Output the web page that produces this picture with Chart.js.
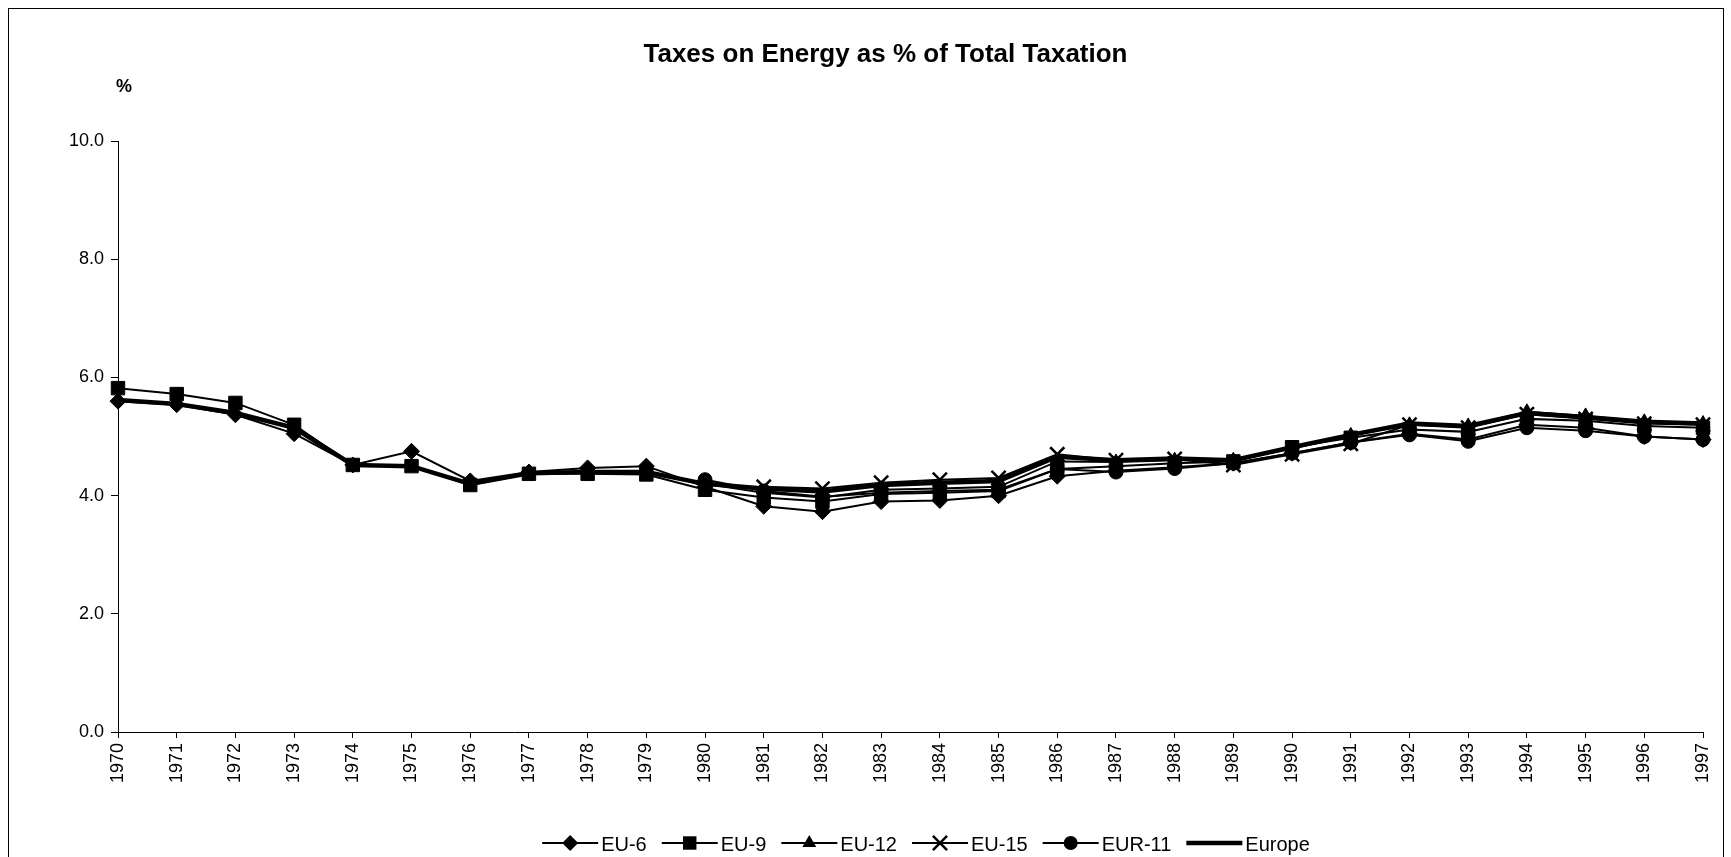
<!DOCTYPE html>
<html>
<head>
<meta charset="utf-8">
<title>Taxes on Energy as % of Total Taxation</title>
<script src="https://cdn.jsdelivr.net/npm/chart.js@4.4.1/dist/chart.umd.min.js"></script>
<style>
  html, body { margin: 0; padding: 0; background: #fff; overflow: hidden; }
  #wrap { position: relative; width: 1731px; height: 857px; }
  #energyChart { position: absolute; left: 0; top: 0; }
  #frame { position: absolute; left: 8px; top: 8px; width: 1716px; height: 860px; border: 1px solid #000; box-sizing: border-box; pointer-events: none; }
</style>
</head>
<body>
<div id="wrap">
  <canvas id="energyChart" width="1731" height="857" style="width:1731px;height:857px"></canvas>
  <div id="frame"></div>
</div>
<script>
// years on the category axis
const years = ['1970', '1971', '1972', '1973', '1974', '1975', '1976', '1977', '1978', '1979',
  '1980', '1981', '1982', '1983', '1984', '1985', '1986', '1987', '1988', '1989',
  '1990', '1991', '1992', '1993', '1994', '1995', '1996', '1997'];

// energy taxes as % of total taxation, per country group
const eu6 = [5.60, 5.54, 5.37, 5.05, 4.52, 4.75, 4.25, 4.40, 4.47, 4.50,
  4.15, 3.82, 3.73, 3.90, 3.92, 4.00, 4.33, 4.42, 4.48, 4.55,
  4.72, 4.90, 5.05, 4.95, 5.20, 5.15, 5.00, 4.95];
const eu9 = [5.82, 5.72, 5.57, 5.20, 4.52, 4.50, 4.18, 4.37, 4.37, 4.36,
  4.10, 3.97, 3.90, 4.03, 4.05, 4.08, 4.45, 4.50, 4.55, 4.58,
  4.82, 4.98, 5.12, 5.08, 5.30, 5.27, 5.18, 5.15];
const eu12 = [null, null, null, null, null, null, null, null, null, null,
  4.20, 4.05, 3.97, 4.10, 4.12, 4.15, 4.58, 4.57, 4.60, 4.60,
  4.80, 5.02, 5.20, 5.18, 5.42, 5.35, 5.25, 5.22];
const eu15 = [null, null, null, null, null, null, null, null, null, null,
  null, 4.15, 4.12, 4.22, 4.27, 4.30, 4.70, 4.60, 4.62, 4.52,
  4.70, 4.88, 5.20, 5.15, 5.38, 5.30, 5.22, 5.20];
const eur11 = [null, null, null, null, null, null, null, null, null, null,
  4.27, 4.08, 3.98, 4.05, 4.08, 4.10, 4.45, 4.40, 4.46, 4.55,
  4.72, 4.90, 5.03, 4.92, 5.15, 5.10, 5.00, 4.95];
const europe = [5.62, 5.55, 5.40, 5.15, 4.52, 4.50, 4.20, 4.38, 4.40, 4.40,
  4.20, 4.12, 4.07, 4.18, 4.22, 4.25, 4.66, 4.60, 4.63, 4.60,
  4.82, 5.03, 5.22, 5.18, 5.40, 5.33, 5.25, 5.22];

const yMin = 0;
const yMax = 10;
const yStep = 2;

const FONT = '"Liberation Sans", Arial, Helvetica, sans-serif';

// small marker painter for the legend keys
function drawMarker(ctx, style, x, y, r, width) {
  ctx.save();
  ctx.fillStyle = '#000';
  ctx.strokeStyle = '#000';
  ctx.lineWidth = width;
  ctx.beginPath();
  if (style === 'rectRot') {
    ctx.moveTo(x, y - r); ctx.lineTo(x + r, y); ctx.lineTo(x, y + r); ctx.lineTo(x - r, y);
    ctx.closePath(); ctx.fill();
  } else if (style === 'rect') {
    const s = r * Math.SQRT1_2;
    ctx.rect(x - s, y - s, 2 * s, 2 * s); ctx.fill();
  } else if (style === 'triangle') {
    ctx.moveTo(x, y - r); ctx.lineTo(x + r * 0.87, y + r * 0.5); ctx.lineTo(x - r * 0.87, y + r * 0.5);
    ctx.closePath(); ctx.fill();
  } else if (style === 'crossRot') {
    const d = r * Math.SQRT1_2;
    ctx.moveTo(x - d, y - d); ctx.lineTo(x + d, y + d);
    ctx.moveTo(x - d, y + d); ctx.lineTo(x + d, y - d);
    ctx.stroke();
  } else if (style === 'circle') {
    ctx.arc(x, y, r, 0, Math.PI * 2); ctx.fill();
  }
  ctx.restore();
}

// legend row with a line segment + marker for each series
const lineLegend = {
  id: 'lineLegend',
  afterDraw(chart, args, opts) {
    const ctx = chart.ctx;
    const sets = chart.data.datasets;
    ctx.save();
    ctx.font = opts.font;
    const widths = sets.map(ds => opts.lineLength + opts.textGap + ctx.measureText(ds.label).width);
    const total = widths.reduce((a, b) => a + b, 0) + opts.itemGap * (sets.length - 1);
    let x = opts.centerX - total / 2;
    const y = opts.y;
    sets.forEach((ds, i) => {
      ctx.strokeStyle = ds.borderColor;
      ctx.lineWidth = ds.borderWidth;
      ctx.beginPath();
      ctx.moveTo(x, y);
      ctx.lineTo(x + opts.lineLength, y);
      ctx.stroke();
      if (ds.pointRadius > 0) {
        drawMarker(ctx, ds.pointStyle, x + opts.lineLength / 2, y, ds.pointRadius * opts.markerScale, ds.pointBorderWidth);
      }
      ctx.fillStyle = '#000';
      ctx.textBaseline = 'middle';
      ctx.textAlign = 'left';
      ctx.fillText(ds.label, x + opts.lineLength + opts.textGap, y + 2);
      x += widths[i] + opts.itemGap;
    });
    ctx.restore();
  }
};

// "%" unit label above the value axis
const unitLabel = {
  id: 'unitLabel',
  afterDraw(chart, args, opts) {
    const ctx = chart.ctx;
    ctx.save();
    ctx.font = 'bold 18px ' + FONT;
    ctx.fillStyle = '#000';
    ctx.textAlign = 'center';
    ctx.textBaseline = 'middle';
    ctx.fillText(opts.text, chart.chartArea.left + opts.dx, opts.y);
    ctx.restore();
  }
};

function series(label, data, style, radius, extra) {
  return Object.assign({
    label: label,
    data: data,
    borderColor: '#000',
    backgroundColor: '#000',
    borderWidth: 2,
    pointStyle: style,
    pointRadius: radius,
    pointHoverRadius: radius,
    pointBackgroundColor: '#000',
    pointBorderColor: '#000',
    pointBorderWidth: 1,
    tension: 0,
    spanGaps: false
  }, extra || {});
}

const ctx = document.getElementById('energyChart').getContext('2d');
new Chart(ctx, {
  type: 'line',
  data: {
    labels: years,
    datasets: [
      series('EU-6', eu6, 'rectRot', 8, { order: 6 }),
      series('EU-9', eu9, 'rect', 9.5, { order: 5 }),
      series('EU-12', eu12, 'triangle', 8, { order: 4 }),
      series('EU-15', eu15, 'crossRot', 10, { order: 3, pointBorderWidth: 2.5 }),
      series('EUR-11', eur11, 'circle', 7, { order: 2 }),
      series('Europe', europe, 'circle', 0, { order: 1, borderWidth: 4.5 })
    ]
  },
  options: {
    responsive: false,
    animation: false,
    devicePixelRatio: 1,
    layout: { padding: { left: 68, right: 28, top: 0, bottom: 55 } },
    plugins: {
      legend: { display: false },
      tooltip: { enabled: false },
      title: {
        display: true,
        text: 'Taxes on Energy as % of Total Taxation',
        color: '#000',
        font: { family: FONT, size: 26, weight: 'bold' },
        padding: { top: 39, bottom: 71 }
      },
      lineLegend: { font: '20px ' + FONT, centerX: 926, y: 843, lineLength: 56, textGap: 3, itemGap: 15, markerScale: 1 },
      unitLabel: { text: '%', dx: 6, y: 87 }
    },
    scales: {
      x: {
        offset: false,
        afterFit: scale => { scale.height = 70; },
        grid: { display: true, drawOnChartArea: false, drawTicks: true, tickLength: 6, color: '#000', offset: false },
        border: { display: true, color: '#000', width: 1 },
        ticks: {
          autoSkip: false,
          maxRotation: 90,
          minRotation: 90,
          padding: 5,
          color: '#000',
          font: { family: FONT, size: 18 }
        }
      },
      y: {
        min: yMin,
        max: yMax,
        afterFit: scale => { scale.width = 50; },
        grid: { display: true, drawOnChartArea: false, drawTicks: true, tickLength: 7, color: '#000' },
        border: { display: true, color: '#000', width: 1 },
        ticks: {
          stepSize: yStep,
          padding: 7,
          color: '#000',
          font: { family: FONT, size: 18 },
          callback: v => Number(v).toFixed(1)
        }
      }
    }
  },
  plugins: [lineLegend, unitLabel]
});
</script>
</body>
</html>
